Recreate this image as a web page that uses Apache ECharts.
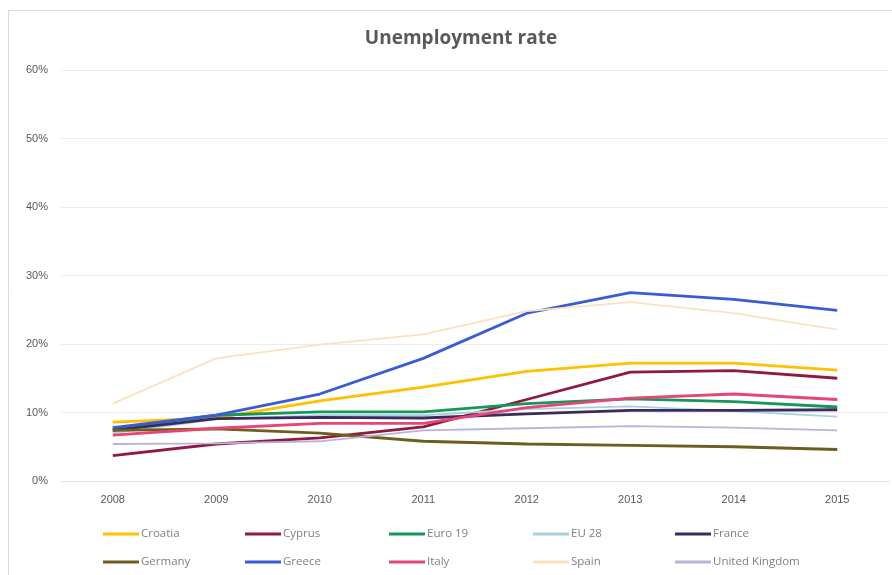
<!DOCTYPE html>
<html>
<head>
<meta charset="utf-8">
<script src="https://cdn.jsdelivr.net/npm/echarts@6/dist/echarts.min.js"></script>
<style>
html,body{margin:0;padding:0;background:#fff;}
#chart{width:892px;height:575px;}
</style>
</head>
<body>
<div id="chart"></div>
<script>
var years = ['2008','2009','2010','2011','2012','2013','2014','2015'];
var yTicks = [0, 10, 20, 30, 40, 50, 60];
var croatia = [8.6, 9.2, 11.7, 13.7, 16.0, 17.2, 17.2, 16.2];
var cyprus = [3.7, 5.4, 6.3, 7.9, 11.9, 15.9, 16.1, 15.0];
var euro19 = [7.6, 9.6, 10.1, 10.1, 11.3, 12.0, 11.6, 10.8];
var eu28 = [7.0, 9.0, 9.6, 9.6, 10.5, 10.9, 10.2, 9.4];
var france = [7.4, 9.1, 9.3, 9.2, 9.8, 10.3, 10.3, 10.4];
var germany = [7.4, 7.6, 7.0, 5.8, 5.4, 5.2, 5.0, 4.6];
var greece = [7.8, 9.6, 12.7, 17.9, 24.5, 27.5, 26.5, 24.9];
var italy = [6.7, 7.7, 8.4, 8.4, 10.7, 12.1, 12.7, 11.9];
var spain = [11.3, 17.9, 19.9, 21.4, 24.8, 26.1, 24.5, 22.1];
var uk = [5.4, 5.5, 5.8, 7.4, 7.7, 8.0, 7.8, 7.4];

var seriesNames = ['Croatia','Cyprus','Euro 19','EU 28','France','Germany','Greece','Italy','Spain','United Kingdom'];
var seriesData = [croatia, cyprus, euro19, eu28, france, germany, greece, italy, spain, uk];
var colors = ['#FFC000','#8E1B3F','#17965A','#A8D0DF','#3A2B5C','#6E5E1E','#3A5BD6','#E54673','#FBE2BF','#B9B3DA'];
var widths = [2.8, 2.8, 2.8, 1.8, 2.8, 2.8, 2.8, 2.8, 1.8, 1.8];

var txt = '#595959';
var legendCols = [98, 240, 384, 528, 670];
var legendRows = [523, 551];
var legends = seriesNames.map(function(n, i){
  return {
    left: legendCols[i % 5], top: legendRows[Math.floor(i / 5)],
    data: [n], itemWidth: 36, itemHeight: 3, itemGap: 0, icon: 'rect',
    textStyle: {color: '#7f7f7f', fontSize: 11.5, padding: [0,0,0,-3], fontFamily: 'Open Sans'}
  };
});

var chart = echarts.init(document.getElementById('chart'));
chart.setOption({
  animation: false,
  color: colors,
  title: {
    text: 'Unemployment rate', left: 456, top: 24, textAlign: 'center',
    textStyle: {fontSize: 19, fontWeight: 'bold', color: txt, fontFamily: 'Open Sans'}
  },
  graphic: [{
    type: 'rect', shape: {x: 8.5, y: 10.5, width: 900, height: 600},
    style: {fill: 'none', stroke: '#d9d9d9', lineWidth: 1}, silent: true, z: -1
  }],
  legend: legends,
  grid: {left: 61, right: 3, top: 70, bottom: 94, containLabel: false},
  xAxis: {
    type: 'category', data: years, boundaryGap: true,
    axisLine: {lineStyle: {color: '#e0e0e0'}},
    axisTick: {show: false},
    axisLabel: {color: txt, fontSize: 11, margin: 13, fontFamily: 'Liberation Sans'}
  },
  yAxis: {
    type: 'value', min: yTicks[0], max: yTicks[yTicks.length-1], interval: 10,
    axisLine: {show: false}, axisTick: {show: false},
    splitLine: {lineStyle: {color: '#ececec'}},
    axisLabel: {color: txt, fontSize: 11, margin: 13, formatter: '{value}%', fontFamily: 'Liberation Sans'}
  },
  series: seriesNames.map(function(n, i){
    return {
      name: n, type: 'line', data: seriesData[i], symbol: 'none',
      lineStyle: {width: widths[i], color: colors[i]},
      itemStyle: {color: colors[i]}
    };
  })
});
</script>
</body>
</html>
